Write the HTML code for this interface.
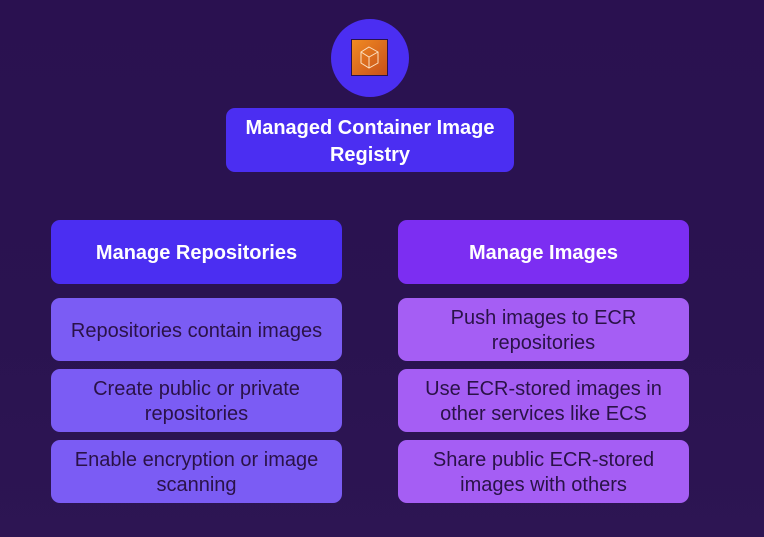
<!DOCTYPE html>
<html><head><style>
body{margin:0;width:764px;height:537px;background:linear-gradient(180deg,#2a1150 0%,#2a1350 60%,#2d1553 100%);font-family:"Liberation Sans",sans-serif;position:relative;overflow:hidden}
.b{position:absolute;border-radius:9px;display:flex;align-items:center;justify-content:center;text-align:center;box-sizing:border-box;padding-top:3px}
.h{color:#fff;font-weight:bold;font-size:20px}
.i{color:#2a1248;font-size:20px;line-height:25px}
.L{background:#4b2ef2}.R{background:#7c2ef2}
.li{background:#7b5cf4}.ri{background:#a55ef4}
</style></head><body>
<div style="position:absolute;left:331px;top:19px;width:78px;height:78px;border-radius:50%;background:#4b2ef2"></div>
<div style="position:absolute;left:351px;top:39px;width:37px;height:37px;background:linear-gradient(135deg,#f08a22,#c8501a);border:1px solid #2a1250;box-sizing:border-box">
<svg width="35" height="35" viewBox="0 0 35 35"><path d="M17 7 L26 12 L26 23 L17 28 L9 23 L9 12 Z M9 12 L17 17 L26 12 M17 17 L17 28" fill="none" stroke="#fde0c0" stroke-width="1"/></svg></div>
<div class="b h L" style="left:226px;top:108px;width:288px;height:64px;line-height:27px">Managed Container Image<br>Registry</div>
<div class="b h L" style="left:51px;top:220px;width:291px;height:64px">Manage Repositories</div>
<div class="b h R" style="left:398px;top:220px;width:291px;height:64px">Manage Images</div>
<div class="b i li" style="left:51px;top:298px;width:291px;height:63px">Repositories contain images</div>
<div class="b i li" style="left:51px;top:369px;width:291px;height:63px">Create public or private<br>repositories</div>
<div class="b i li" style="left:51px;top:440px;width:291px;height:63px">Enable encryption or image<br>scanning</div>
<div class="b i ri" style="left:398px;top:298px;width:291px;height:63px">Push images to ECR<br>repositories</div>
<div class="b i ri" style="left:398px;top:369px;width:291px;height:63px">Use ECR-stored images in<br>other services like ECS</div>
<div class="b i ri" style="left:398px;top:440px;width:291px;height:63px">Share public ECR-stored<br>images with others</div>
</body></html>
